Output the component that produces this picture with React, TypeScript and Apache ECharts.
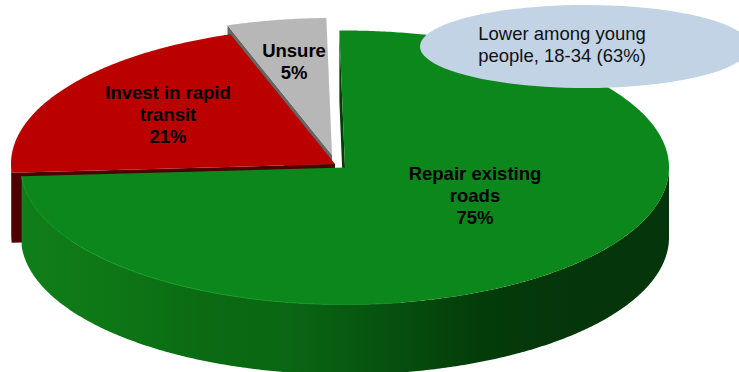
import React, { useEffect, useRef } from "react";
import * as echarts from "echarts";

// Survey shares for the tilted pie and the note beside it.
const categories = ["Repair existing\nroads", "Invest in rapid\ntransit", "Unsure"];
const shares = [75, 21, 5];
const noteLines = ["Lower among young", "people, 18-34 (63%)"];

const WIDTH = 739;
const HEIGHT = 372;
const RX = 324;
const RY = 137;
const DEPTH = 70;
const START_ANGLE = -1;

// Per-slice look: where the exploded apex sits, surface and cut colours, label centre.
const sliceLook = [
  { cx: 345, cy: 167.5, top: "#0c871b", face: "#043c0a", lx: 475, ly: 195.5 },
  { cx: 335, cy: 164, top: "#bb0000", face: "#4d0000", lx: 168, ly: 114 },
  { cx: 332, cy: 155, top: "#b7b7b7", face: "#666666", lx: 294, ly: 61.5 },
];

const wallStops = [
  [22, "#107f18"],
  [130, "#0d7415"],
  [200, "#0b6b13"],
  [290, "#0a6612"],
  [360, "#075710"],
  [420, "#054a0d"],
  [480, "#033c09"],
  [540, "#05370b"],
  [669, "#05350a"],
] as const;

const total = shares.reduce((a, b) => a + b, 0);
const sweeps = shares.map((v) => (v / total) * 360);
const starts = sweeps.map(
  (_, i) => START_ANGLE + sweeps.slice(0, i).reduce((a, b) => a + b, 0)
);

// Clockwise from twelve o'clock, on the flattened circle.
function rim(cx: number, cy: number, deg: number): [number, number] {
  const a = (deg * Math.PI) / 180;
  return [cx + RX * Math.sin(a), cy - RY * Math.cos(a)];
}

function arc(cx: number, cy: number, from: number, to: number) {
  const pts: [number, number][] = [];
  const n = Math.max(2, Math.ceil(Math.abs(to - from) * 2));
  for (let k = 0; k <= n; k++) pts.push(rim(cx, cy, from + ((to - from) * k) / n));
  return pts;
}

const lower = (pts: [number, number][]) =>
  pts.map(([x, y]) => [x, y + DEPTH] as [number, number]).reverse();

function renderSlice(_: unknown, api: any) {
  const i = api.value(0) as number;
  const s = sliceLook[i];
  const from = starts[i];
  const to = from + sweeps[i];
  const children: any[] = [];

  // Cut face along the slice's leading edge, seen only when it turns toward the viewer.
  if (Math.sin((from * Math.PI) / 180) < 0) {
    const edge: [number, number][] = [rim(s.cx, s.cy, from), [s.cx, s.cy]];
    children.push({
      type: "polygon",
      shape: { points: [...edge, ...lower(edge)] },
      style: { fill: s.face },
    });
  }

  // Outer wall on the front half of the rim.
  const wallFrom = Math.max(from, 90);
  const wallTo = Math.min(to, 270);
  if (wallTo > wallFrom) {
    const top = arc(s.cx, s.cy, wallFrom, wallTo);
    const fill =
      i === 0
        ? new echarts.graphic.LinearGradient(
            22,
            0,
            669,
            0,
            wallStops.map(([x, color]) => ({ offset: (x - 22) / 647, color })),
            true
          )
        : s.face;
    children.push({
      type: "polygon",
      shape: { points: [...top, ...lower(top)] },
      style: { fill },
    });
  }

  // Top surface.
  children.push({
    type: "polygon",
    shape: { points: [[s.cx, s.cy], ...arc(s.cx, s.cy, from, to)] },
    style: { fill: s.top },
  });

  // Light catching the front-left of the green rim.
  if (i === 0) {
    children.push({
      type: "polyline",
      shape: { points: arc(s.cx, s.cy, to, 170) },
      style: {
        fill: "none",
        lineWidth: 1,
        stroke: new echarts.graphic.LinearGradient(
          22,
          0,
          420,
          0,
          [
            { offset: 0, color: "#16a026" },
            { offset: 0.7, color: "#139524" },
            { offset: 1, color: "#0c871b" },
          ],
          true
        ),
      },
    });
  }

  children.push({
    type: "text",
    style: {
      text: `${categories[i]}\n${shares[i]}%`,
      x: s.lx,
      y: s.ly,
      align: "center",
      verticalAlign: "middle",
      fill: "#000000",
      font: 'bold 18.5px "Liberation Sans", Arial, sans-serif',
      lineHeight: 22,
    },
  });

  return { type: "group", children };
}

export default function App() {
  const ref = useRef<HTMLDivElement>(null);

  useEffect(() => {
    document.body.style.margin = "0";
    const chart = echarts.init(ref.current!, null, { renderer: "svg" });
    chart.setOption({
      animation: false,
      backgroundColor: "#ffffff",
      series: [
        {
          type: "custom",
          coordinateSystem: "none",
          silent: true,
          renderItem: renderSlice,
          // Back slices first, so the nearer ones cover their cut faces.
          data: [[2], [1], [0]],
        },
      ],
      graphic: {
        elements: [
          {
            type: "ellipse",
            z: 10,
            silent: true,
            shape: { cx: 585, cy: 46.5, rx: 165, ry: 41.5 },
            style: { fill: "#c1d3e5" },
          },
          {
            type: "text",
            z: 11,
            silent: true,
            x: 562,
            y: 44.5,
            style: {
              text: noteLines.join("\n"),
              align: "center",
              verticalAlign: "middle",
              fill: "#111111",
              font: '18.5px "Liberation Sans", Arial, sans-serif',
              lineHeight: 21.5,
            },
          },
        ],
      },
    });
    return () => chart.dispose();
  }, []);

  return <div ref={ref} style={{ width: WIDTH, height: HEIGHT }} />;
}
